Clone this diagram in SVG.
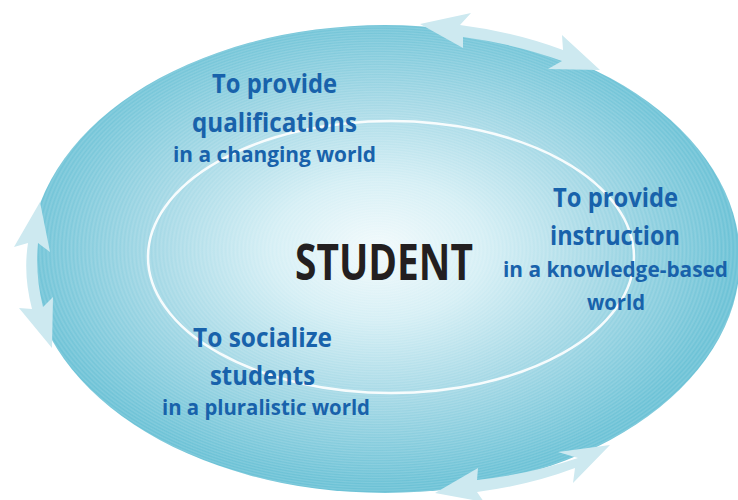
<svg xmlns="http://www.w3.org/2000/svg" width="738" height="500" viewBox="0 0 738 500">
  <defs>
    <radialGradient id="bg" cx="0.49" cy="0.48" r="0.5" fx="0.49" fy="0.48">
      <stop offset="0" stop-color="#f2fafc"/>
      <stop offset="0.3" stop-color="#d5eff5"/>
      <stop offset="0.62" stop-color="#a6d9e6"/>
      <stop offset="1" stop-color="#6cc2d6"/>
    </radialGradient>
    <radialGradient id="rings" cx="0.49" cy="0.48" r="0.0055" fx="0.49" fy="0.48" spreadMethod="repeat">
      <stop offset="0" stop-color="#ffffff" stop-opacity="0"/>
      <stop offset="0.5" stop-color="#ffffff" stop-opacity="0.35"/>
      <stop offset="1" stop-color="#ffffff" stop-opacity="0"/>
    </radialGradient>
    <style>
      .arrow { fill: #cde9f0; }
      .big { font-family: "Open Sans", "Noto Sans", "Liberation Sans", sans-serif; font-weight: 700; font-size: 27px; fill: #1862ab; text-anchor: middle; }
      .small { font-family: "Open Sans", "Noto Sans", "Liberation Sans", sans-serif; font-weight: 700; font-size: 21.5px; fill: #1862ab; text-anchor: middle; }
      .center { font-family: "Open Sans", "Noto Sans", "Liberation Sans", sans-serif; font-weight: 700; font-size: 50px; fill: #231f20; text-anchor: middle; }
    </style>
  </defs>

  <g id="outer-ring">
    <ellipse cx="385" cy="259" rx="355" ry="234" fill="url(#bg)"/>
    <ellipse cx="385" cy="259" rx="355" ry="234" fill="url(#rings)" opacity="0.4"/>
  </g>
  <g id="inner-ring">
    <ellipse cx="391" cy="257" rx="243" ry="136" fill="none" stroke="#ffffff" stroke-width="2.5" opacity="0.9"/>
  </g>

  <g id="connectors">
    <path id="arrow-top" class="arrow" d="M420,24 L471,13 L460,25 Q515,32 563,50 L562,35 L600,70 L548,69 L562,61 Q515,44 463,37 L463,48 Z"/>
    <path id="arrow-left" class="arrow" d="M40,202 L50,252 L38,243 Q35,275 43,307 L53,297 L52,348 L19,308 L32,309 Q23,275 28,243 L14,247 Z"/>
    <path id="arrow-bottom" class="arrow" d="M610,445 L573,483 L575,468 Q530,485 477,492 L484,502 L435,493 L478,468 L477,480 Q530,474 578,458 L558,452 Z"/>
  </g>

  <g id="node-student">
    <text class="center" x="384" y="280" textLength="178" lengthAdjust="spacingAndGlyphs">STUDENT</text>
  </g>
  <g id="node-qualifications">
    <text class="big" x="274.5" y="93" textLength="125" lengthAdjust="spacingAndGlyphs">To provide</text>
    <text class="big" x="274.5" y="132" textLength="165" lengthAdjust="spacingAndGlyphs">qualifications</text>
    <text class="small" x="274.5" y="162" textLength="203" lengthAdjust="spacingAndGlyphs">in a changing world</text>
  </g>
  <g id="node-instruction">
    <text class="big" x="615.5" y="207" textLength="125" lengthAdjust="spacingAndGlyphs">To provide</text>
    <text class="big" x="615" y="245" textLength="130" lengthAdjust="spacingAndGlyphs">instruction</text>
    <text class="small" x="615.5" y="277" textLength="225" lengthAdjust="spacingAndGlyphs">in a knowledge-based</text>
    <text class="small" x="616" y="310" textLength="58" lengthAdjust="spacingAndGlyphs">world</text>
  </g>
  <g id="node-socialize">
    <text class="big" x="262.5" y="347" textLength="139" lengthAdjust="spacingAndGlyphs">To socialize</text>
    <text class="big" x="262.5" y="385" textLength="105" lengthAdjust="spacingAndGlyphs">students</text>
    <text class="small" x="266" y="415" textLength="208" lengthAdjust="spacingAndGlyphs">in a pluralistic world</text>
  </g>
</svg>
